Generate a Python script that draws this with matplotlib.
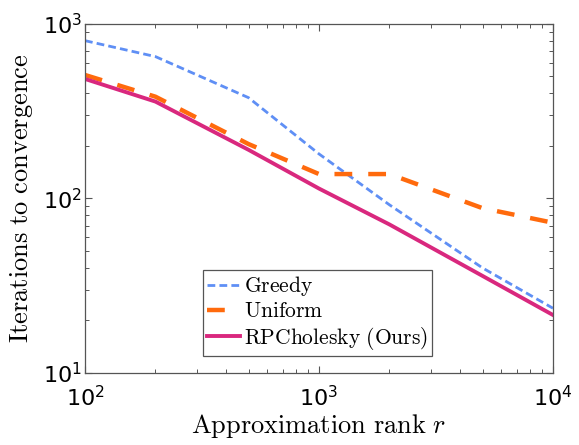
import matplotlib
matplotlib.use('Agg')
import matplotlib.pyplot as plt
from matplotlib.ticker import LogLocator, NullFormatter
import numpy as np

# tick labels in a Helvetica-like sans, axis labels / legend in Computer Modern
plt.rcParams['mathtext.fontset'] = 'custom'
plt.rcParams['mathtext.rm'] = 'Liberation Sans'
plt.rcParams['mathtext.it'] = 'Liberation Sans:italic'
plt.rcParams['mathtext.bf'] = 'Liberation Sans:bold'

rank = [100, 200, 500, 1000, 2000, 5000, 10000]
greedy = [802, 650, 378, 180, 92, 40, 23.5]
uniform = [510, 383, 205, 138, 138, 88, 72.6]
rpchol = [484, 359, 190, 114, 71, 36, 21.5]

fig = plt.figure(figsize=(5.79, 4.45), dpi=100)
ax = fig.add_axes([0.1468, 0.1618, 0.8082, 0.7844])

ax.plot(rank, greedy, color='#5f8ff5', lw=2.0, ls=(0, (2.8, 1.5)), label=r'$\mathrm{Greedy}$')
ax.plot(rank, uniform, color='#ff6a0d', lw=3.2, ls=(0, (4.0, 3.6)), label=r'$\mathrm{Uniform}$')
ax.plot(rank, rpchol, color='#d9287e', lw=2.8, ls='-', label=r'$\mathrm{RPCholesky\ (Ours)}$')

ax.set_xscale('log')
ax.set_yscale('log')
ax.set_xlim(1e2, 1e4)
ax.set_ylim(1e1, 1e3)

ax.xaxis.set_minor_locator(LogLocator(base=10, subs=np.arange(2, 10)))
ax.yaxis.set_minor_locator(LogLocator(base=10, subs=np.arange(2, 10)))
ax.xaxis.set_minor_formatter(NullFormatter())
ax.yaxis.set_minor_formatter(NullFormatter())

for s in ax.spines.values():
    s.set_color('#555555')
    s.set_linewidth(0.9)
ax.tick_params(which='both', direction='in', top=True, right=True, colors='#555555',
               labelcolor='black', labelsize=16)
ax.tick_params(which='major', length=5, width=0.8)
ax.tick_params(which='minor', length=3, width=0.7)
ax.tick_params(axis='x', pad=9)
ax.tick_params(axis='y', pad=2)

ax.set_xlabel(r'$\mathrm{Approximation\ rank}\ r$', fontsize=19, labelpad=1,
              math_fontfamily='cm')
ax.set_ylabel(r'$\mathrm{Iterations\ to\ convergence}$', fontsize=19, labelpad=6,
              math_fontfamily='cm')

leg = ax.legend(loc='lower left', bbox_to_anchor=(0.252, 0.049),
                prop={'size': 15.5, 'math_fontfamily': 'cm'},
                handlelength=1.5, handletextpad=0.2, borderpad=0.2, labelspacing=0.15,
                borderaxespad=0, fancybox=False, framealpha=1, edgecolor='#555555')
leg.get_frame().set_linewidth(0.9)

fig.savefig('out.png', dpi=100)
